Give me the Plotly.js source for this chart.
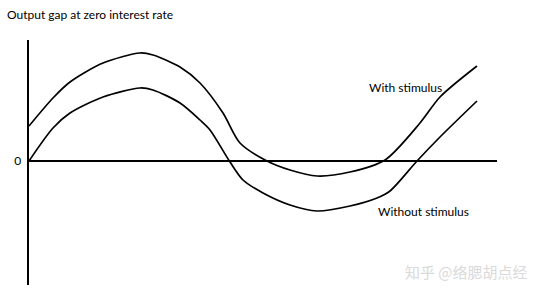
<!DOCTYPE html>
<html>
<head>
<meta charset="utf-8">
<script src="https://cdn.plot.ly/plotly-3.0.1.min.js"></script>
<style>html,body{margin:0;padding:0;background:#fff;}#chart{width:544px;height:294px;}</style>
</head>
<body>
<div id="chart"></div>
<script>
// Time (arbitrary units) and output gap values
const timeWith = [0, 24, 41, 74, 111, 124, 151, 171, 194, 211, 238, 261, 288, 321, 356, 391, 411, 448];
const gapWith  = [35, 63, 79, 98, 108, 106, 94, 78, 48, 18, 0, -9, -15, -11, 1, 38, 64, 95];

const timeWithout = [0, 24, 41, 74, 111, 124, 151, 171, 181, 201, 214, 234, 261, 288, 321, 348, 361, 388, 411, 448];
const gapWithout  = [0, 33, 48, 64, 73, 71, 58, 41, 31, -1, -19, -32, -44, -50, -45, -37, -30, 0, 24, 60];

const yTickVals = [0];
const yTickText = ['0'];

const seriesNames = ['With stimulus', 'Without stimulus'];

const lineStyle = {color: '#000', width: 1.7, shape: 'spline', smoothing: 0.8};

const traces = [
  {x: timeWith, y: gapWith, mode: 'lines', line: lineStyle, name: seriesNames[0], hoverinfo: 'none'},
  {x: timeWithout, y: gapWithout, mode: 'lines', line: lineStyle, name: seriesNames[1], hoverinfo: 'none'}
];

const font = {family: 'Lato, "Liberation Sans", sans-serif', size: 12, color: '#000'};

const layout = {
  width: 544, height: 294,
  margin: {l: 29, r: 47, t: 40, b: 9, pad: 0},
  paper_bgcolor: '#fff', plot_bgcolor: '#fff',
  showlegend: false,
  font: font,
  title: {text: 'Output gap at zero interest rate', x: 7/544, xref: 'container', xanchor: 'left',
          y: 1 - 15/294, yref: 'container', yanchor: 'middle', font: font},
  xaxis: {range: [0, 468], showgrid: false, zeroline: false, showticklabels: false, ticks: '', showline: false, fixedrange: true},
  yaxis: {range: [-124, 121], showgrid: false, zeroline: true, zerolinecolor: '#000', zerolinewidth: 2.5,
          showline: true, linecolor: '#000', linewidth: 2.5, ticks: '', tickvals: yTickVals, ticktext: yTickText,
          tickfont: font, ticklabelstandoff: 3, fixedrange: true},
  annotations: [
    {text: 'Time', x: 478, y: -11, xref: 'x', yref: 'y', xanchor: 'left', yanchor: 'middle', showarrow: false, font: font},
    {text: seriesNames[0], x: 338, y: 74, xref: 'x', yref: 'y', xanchor: 'left', yanchor: 'middle', showarrow: false, font: font},
    {text: seriesNames[1], x: 347, y: -50, xref: 'x', yref: 'y', xanchor: 'left', yanchor: 'middle', showarrow: false, font: font},
    {text: '知乎 @络腮胡点经', x: (530 - 29) / 468, y: (23 - 9) / 245, xref: 'paper', yref: 'paper', xanchor: 'right', yanchor: 'middle',
     showarrow: false, font: {family: '"Noto Sans CJK SC", sans-serif', size: 15, color: '#dadada'}}
  ]
};

Plotly.newPlot('chart', traces, layout, {displayModeBar: false, staticPlot: true});
</script>
</body>
</html>
